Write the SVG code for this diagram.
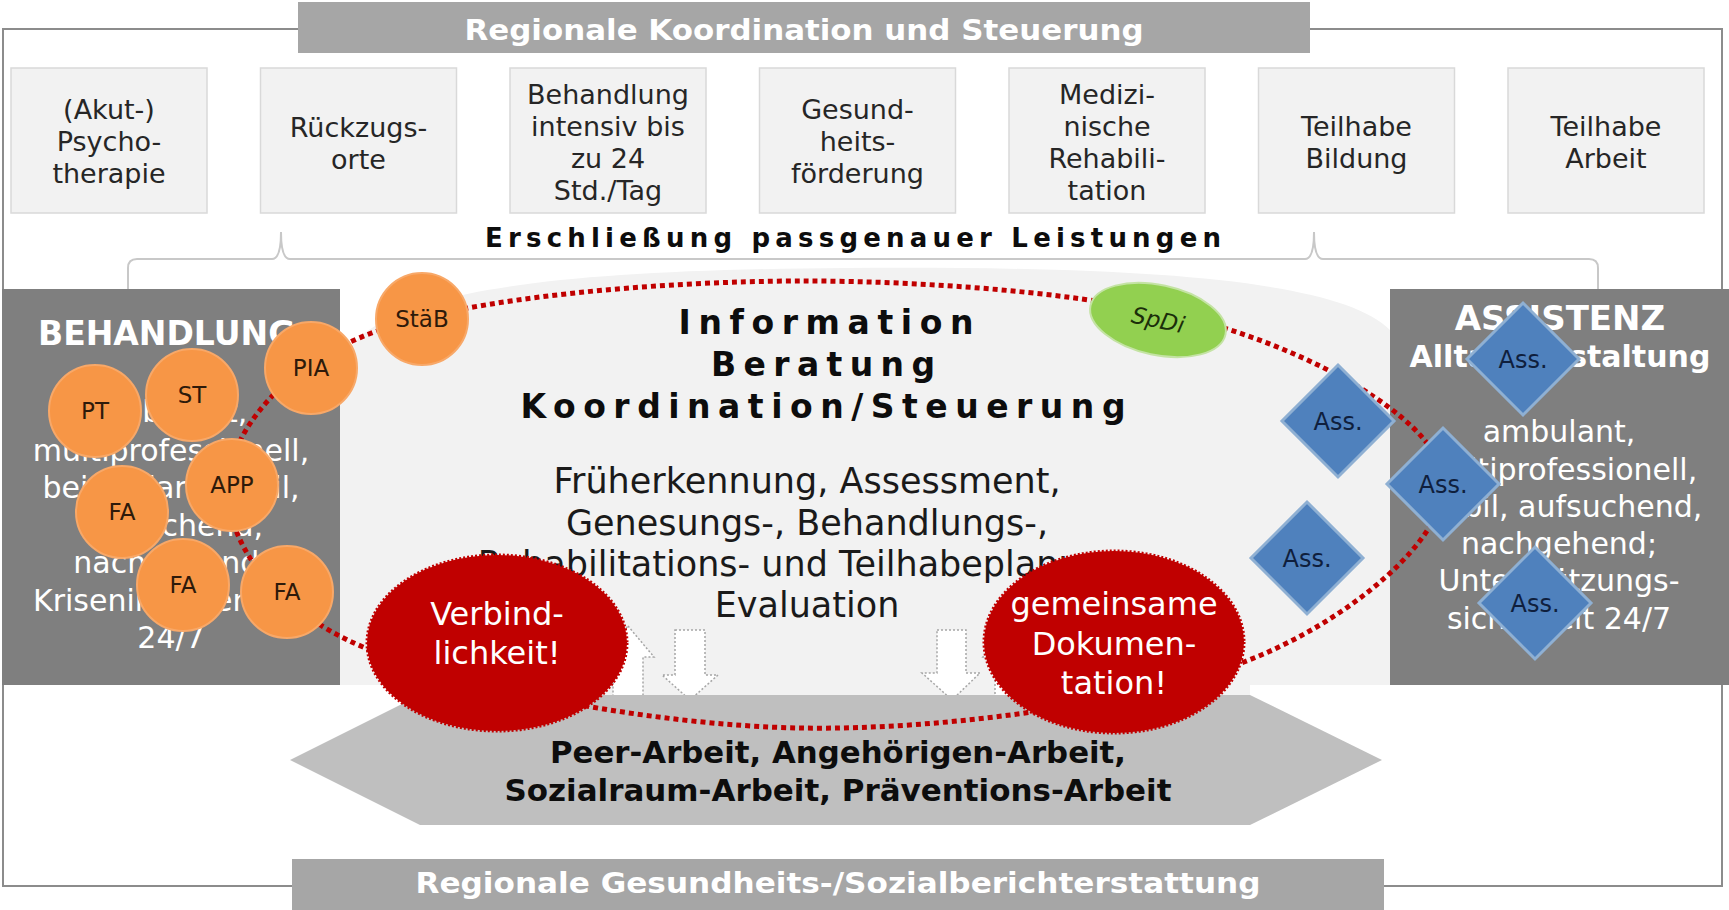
<svg xmlns="http://www.w3.org/2000/svg" width="1729" height="910" viewBox="0 0 1729 910">
<defs>
<style>
text{font-family:"DejaVu Sans",Verdana,sans-serif}
.box rect{fill:#f2f2f2;stroke:#d9d9d9;stroke-width:1.5}
.box text{font-size:27px;fill:#262626;text-anchor:middle}
.ban{fill:#a6a6a6}
.bant{font-size:29px;font-weight:bold;fill:#fff;text-anchor:middle}
.panel{fill:#7f7f7f}
.pt{font-size:30px;fill:#fff;text-anchor:middle}
.ptt{font-weight:bold;fill:#fff}
.oc circle{fill:#f79646;stroke:#f8a868;stroke-width:2}
.oc text{font-size:23px;fill:#2e1a0a;text-anchor:middle}
.as polygon{fill:#4f81bd;stroke:#8fb0d3;stroke-width:3}
.as text{font-size:24px;fill:#0f1f3d;text-anchor:middle}
.red ellipse{fill:#c00000;stroke:#c00000;stroke-width:3;stroke-dasharray:2 2}
.red text{font-size:32px;fill:#fff;text-anchor:middle}
.arr{fill:#fff;stroke:#a6a6a6;stroke-width:1.5;stroke-dasharray:2 2}
.ct{font-size:35px;fill:#1a1a1a;text-anchor:middle}
.ht{font-size:33px;font-weight:bold;fill:#0d0d0d;text-anchor:middle}
.hx{font-size:30px;font-weight:bold;fill:#0d0d0d;text-anchor:middle}
.ring{fill:none;stroke:#c00000;stroke-width:5;stroke-dasharray:5 4}
</style>
</defs>
<rect width="1729" height="910" fill="#fff"/>
<rect x="3" y="29" width="1719" height="857" fill="none" stroke="#8c8c8c" stroke-width="2"/>

<!-- banners -->
<g id="banner-top">
<rect class="ban" x="298" y="2" width="1012" height="51"/>
<text class="bant" x="804" y="40" textLength="679" lengthAdjust="spacingAndGlyphs">Regionale Koordination und Steuerung</text>
</g>
<g id="banner-bottom">
<rect class="ban" x="292" y="859" width="1092" height="51"/>
<text class="bant" x="838" y="893" textLength="845" lengthAdjust="spacingAndGlyphs">Regionale Gesundheits-/Sozialberichterstattung</text>
</g>

<!-- top boxes -->
<g id="box1" class="box"><rect x="11" y="68" width="196" height="145"/>
<text x="109" y="119">(Akut-)</text><text x="109" y="151">Psycho-</text><text x="109" y="183">therapie</text></g>
<g id="box2" class="box"><rect x="260.5" y="68" width="196" height="145"/>
<text x="358.5" y="137">Rückzugs-</text><text x="358.5" y="169">orte</text></g>
<g id="box3" class="box"><rect x="510" y="68" width="196" height="145"/>
<text x="608" y="104">Behandlung</text><text x="608" y="136">intensiv bis</text><text x="608" y="168">zu 24</text><text x="608" y="200">Std./Tag</text></g>
<g id="box4" class="box"><rect x="759.5" y="68" width="196" height="145"/>
<text x="857.5" y="119">Gesund-</text><text x="857.5" y="151">heits-</text><text x="857.5" y="183">förderung</text></g>
<g id="box5" class="box"><rect x="1009" y="68" width="196" height="145"/>
<text x="1107" y="104">Medizi-</text><text x="1107" y="136">nische</text><text x="1107" y="168">Rehabili-</text><text x="1107" y="200">tation</text></g>
<g id="box6" class="box"><rect x="1258.5" y="68" width="196" height="145"/>
<text x="1356.5" y="136">Teilhabe</text><text x="1356.5" y="168">Bildung</text></g>
<g id="box7" class="box"><rect x="1508" y="68" width="196" height="145"/>
<text x="1606" y="136">Teilhabe</text><text x="1606" y="168">Arbeit</text></g>

<g id="erschliessung">
<text x="853" y="247" font-size="26" font-weight="bold" fill="#0d0d0d" text-anchor="middle" textLength="736" lengthAdjust="spacing">Erschließung passgenauer Leistungen</text>
<path d="M128,290 L128,268 Q128,259 137,259 L272,259 Q281,259 281,232 Q281,259 290,259 L1305,259 Q1314,259 1314,232 Q1314,259 1323,259 L1589,259 Q1598,259 1598,268 L1598,290" fill="none" stroke="#c8c8c8" stroke-width="2"/>
</g>

<!-- central area -->
<g id="center">
<path d="M340,685 L340,380 C340,300 500,270 846,268 C1130,266 1340,278 1390,330 L1390,685 L1250,685 L1250,698 L420,698 L420,685 Z" fill="#f2f2f2"/>
<text class="ht" x="826" y="334" textLength="295" lengthAdjust="spacing">Information</text>
<text class="ht" x="823" y="376" textLength="224" lengthAdjust="spacing">Beratung</text>
<text class="ht" x="823" y="418" textLength="605" lengthAdjust="spacing">Koordination/Steuerung</text>
<text class="ct" x="807" y="493">Früherkennung, Assessment,</text>
<text class="ct" x="807" y="535">Genesungs-, Behandlungs-,</text>
<text class="ct" x="807" y="576">Rehabilitations- und Teilhabeplanung,</text>
<text class="ct" x="807" y="617">Evaluation</text>
</g>

<g id="arrows">
<polygon class="arr" points="628,626 654,657 643,657 643,700 613,700 613,657 602,657"/>
<polygon class="arr" points="675,630 705,630 705,675 718,675 690,700 662,675 675,675"/>
<polygon class="arr" points="937,630 966,630 966,673 980,673 952,700 922,673 937,673"/>
<polygon class="arr" points="1010,626 1037,657 1025,657 1025,700 995,700 995,657 983,657"/>
</g>

<g id="hexagon">
<polygon points="290,760 420,695 1250,695 1382,760 1250,825 420,825" fill="#bfbfbf"/>
<text class="hx" x="838" y="763" textLength="576" lengthAdjust="spacingAndGlyphs">Peer-Arbeit, Angehörigen-Arbeit,</text>
<text class="hx" x="838" y="801" textLength="667" lengthAdjust="spacingAndGlyphs">Sozialraum-Arbeit, Präventions-Arbeit</text>
</g>

<g id="behandlung">
<rect class="panel" x="2" y="289" width="338" height="396"/>
<text class="ptt" x="38" y="345" font-size="33">BEHANDLUNG</text>
<text class="pt" x="171" y="422">ambulant,</text>
<text class="pt" x="171" y="461">multiprofessionell,</text>
<text class="pt" x="171" y="498">bei Bedarf mobil,</text>
<text class="pt" x="171" y="536">aufsuchend,</text>
<text class="pt" x="171" y="573">nachgehend,</text>
<text class="pt" x="171" y="611">Krisenintervention</text>
<text class="pt" x="171" y="648">24/7</text>
</g>

<g id="assistenz">
<rect class="panel" x="1390" y="289" width="339" height="396"/>
<text class="ptt" x="1560" y="330" font-size="34" text-anchor="middle">ASSISTENZ</text>
<text class="ptt" x="1560" y="367" font-size="30" text-anchor="middle">Alltagsgestaltung</text>
<text class="pt" x="1559" y="442">ambulant,</text>
<text class="pt" x="1559" y="480">multiprofessionell,</text>
<text class="pt" x="1559" y="517">mobil, aufsuchend,</text>
<text class="pt" x="1559" y="554">nachgehend;</text>
<text class="pt" x="1559" y="591">Unterstützungs-</text>
<text class="pt" x="1559" y="629">sicherheit 24/7</text>
</g>

<g id="connectors">
<path class="ring" d="M228,485 C230.3,432.3 281.7,365 377,331 C472.3,297 658.3,281.3 800,281 C941.7,280.7 1119.7,295.5 1227,329 C1334.3,362.5 1441.2,426.5 1444,482 C1446.8,537.5 1351.3,621 1244,662 C1136.7,703 946.8,730.5 800,728 C653.2,725.5 458.3,687.5 363,647 C267.7,606.5 225.7,537.7 228,485 Z"/>
</g>

<g id="verbindlichkeit" class="red">
<ellipse cx="497" cy="643" rx="130" ry="88"/>
<text x="497" y="625">Verbind-</text><text x="497" y="664">lichkeit!</text>
</g>
<g id="dokumentation" class="red">
<ellipse cx="1114" cy="642" rx="130" ry="91"/>
<text x="1114" y="615">gemeinsame</text><text x="1114" y="655">Dokumen-</text><text x="1114" y="694">tation!</text>
</g>

<g id="staeb" class="oc"><circle cx="422" cy="319" r="46"/><text x="422" y="327">StäB</text></g>
<g id="pia" class="oc"><circle cx="311" cy="368" r="46"/><text x="311" y="376">PIA</text></g>
<g id="st" class="oc"><circle cx="192" cy="395" r="46"/><text x="192" y="403">ST</text></g>
<g id="pt" class="oc"><circle cx="95" cy="411" r="46"/><text x="95" y="419">PT</text></g>
<g id="app" class="oc"><circle cx="232" cy="485" r="46"/><text x="232" y="493">APP</text></g>
<g id="fa1" class="oc"><circle cx="122" cy="512" r="46"/><text x="122" y="520">FA</text></g>
<g id="fa2" class="oc"><circle cx="183" cy="585" r="46"/><text x="183" y="593">FA</text></g>
<g id="fa3" class="oc"><circle cx="287" cy="592" r="46"/><text x="287" y="600">FA</text></g>

<g id="spdi" transform="rotate(12 1158 320)">
<ellipse cx="1158" cy="320" rx="69" ry="35" fill="#92d050" stroke="#c4e3a4" stroke-width="2"/>
<text x="1158" y="328" font-size="23" font-style="italic" fill="#1b2e0a" text-anchor="middle">SpDi</text>
</g>

<g id="ass1" class="as"><polygon points="1338,365 1394,421 1338,477 1282,421"/><text x="1338" y="430">Ass.</text></g>
<g id="ass2" class="as"><polygon points="1443,428 1499,484 1443,540 1387,484"/><text x="1443" y="493">Ass.</text></g>
<g id="ass3" class="as"><polygon points="1523,303 1579,359 1523,415 1467,359"/><text x="1523" y="368">Ass.</text></g>
<g id="ass4" class="as"><polygon points="1307,502 1363,558 1307,614 1251,558"/><text x="1307" y="567">Ass.</text></g>
<g id="ass5" class="as"><polygon points="1535,547 1591,603 1535,659 1479,603"/><text x="1535" y="612">Ass.</text></g>
</svg>
